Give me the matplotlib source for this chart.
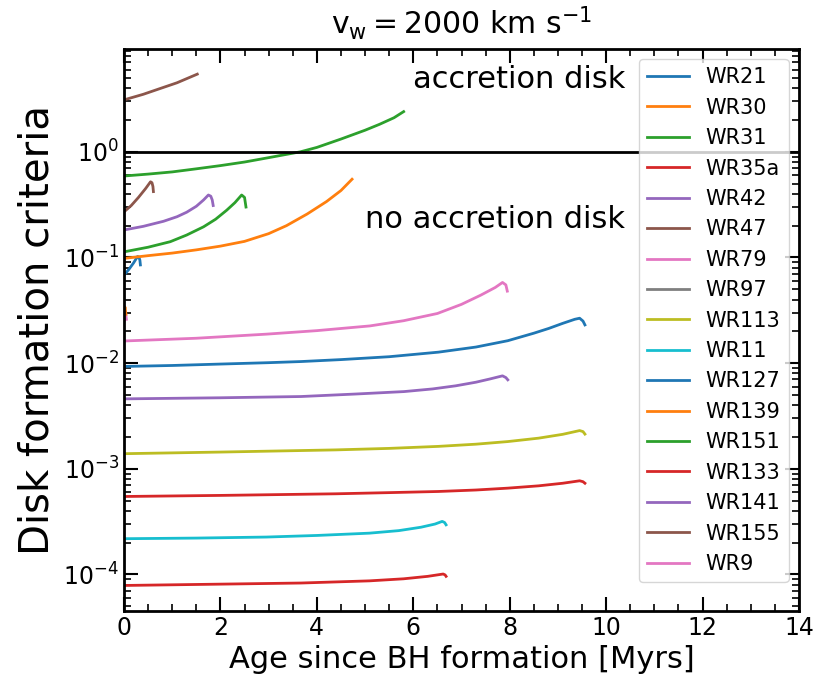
import numpy as np
import matplotlib.pyplot as plt

# nombres de las estrellas (orden de la leyenda)
names = ['WR21', 'WR30', 'WR31', 'WR35a', 'WR42', 'WR47', 'WR79', 'WR97',
         'WR113', 'WR11', 'WR127', 'WR139', 'WR151', 'WR133', 'WR141',
         'WR155', 'WR9']

# edad [Myr] y criterio de formacion de disco
wr21_t = [0.0, 0.1, 0.2, 0.28, 0.31, 0.33, 0.34]
wr21_c = [0.068, 0.077, 0.089, 0.102, 0.101, 0.094, 0.085]
wr30_t = [0.0, 0.5, 1.0, 1.5, 2.0, 2.5, 3.0, 3.37, 3.8, 4.2, 4.5, 4.73]
wr30_c = [0.098, 0.104, 0.110, 0.118, 0.128, 0.142, 0.168, 0.2, 0.258,
          0.338, 0.43, 0.55]
wr31_t = [0.0, 0.5, 1.0, 1.5, 2.0, 2.5, 3.0, 3.66, 4.0, 4.5, 5.0, 5.3,
          5.6, 5.8]
wr31_c = [0.59, 0.615, 0.645, 0.69, 0.74, 0.80, 0.88, 1.0, 1.1, 1.32, 1.6,
          1.82, 2.1, 2.4]
wr35a_t = [0.0, 2.0, 3.67, 5.09, 5.8, 6.3, 6.62, 6.66, 6.68]
wr35a_c = [7.87e-5, 8.1e-5, 8.3e-5, 8.7e-5, 9.1e-5, 9.6e-5, 1.01e-4,
           9.9e-5, 9.6e-5]
wr42_t = [0.0, 0.4, 0.82, 1.1, 1.3, 1.5, 1.65, 1.75, 1.8, 1.83, 1.85]
wr42_c = [0.182, 0.197, 0.22, 0.243, 0.268, 0.305, 0.35, 0.39, 0.38,
          0.35, 0.31]
wr47_t = [0.0, 0.15, 0.3, 0.45, 0.55, 0.58, 0.6, 0.61]
wr47_c = [0.27, 0.31, 0.37, 0.45, 0.52, 0.51, 0.47, 0.42]
wr79_t = [0.0, 0.03, 0.05]
wr79_c = [0.025, 0.031, 0.026]
wr97_t = []
wr97_c = []
wr113_t = [0.0, 2.0, 4.39, 5.5, 6.52, 7.3, 7.96, 8.6, 9.1, 9.45, 9.52,
           9.56]
wr113_c = [1.39e-3, 1.44e-3, 1.51e-3, 1.56e-3, 1.63e-3, 1.71e-3, 1.81e-3,
           1.95e-3, 2.12e-3, 2.3e-3, 2.25e-3, 2.13e-3]
wr11_t = [0.0, 1.5, 2.95, 4.0, 5.09, 5.7, 6.16, 6.45, 6.6, 6.65, 6.68]
wr11_c = [2.18e-4, 2.21e-4, 2.26e-4, 2.34e-4, 2.46e-4, 2.6e-4, 2.8e-4,
          3.0e-4, 3.18e-4, 3.1e-4, 2.95e-4]
wr127_t = [0.0, 1.0, 2.0, 3.0, 3.67, 4.5, 5.5, 6.52, 7.3, 7.96, 8.5,
           8.81, 9.1, 9.35, 9.45, 9.52, 9.56]
wr127_c = [0.0093, 0.0095, 0.0098, 0.0101, 0.01035, 0.0108, 0.0115, 0.0127,
           0.0142, 0.0163, 0.0192, 0.0213, 0.0238, 0.026, 0.0266, 0.025,
           0.023]
wr139_t = [0.0, 0.02, 0.04]
wr139_c = [0.028, 0.034, 0.029]
wr151_t = [0.0, 0.5, 0.96, 1.3, 1.65, 1.9, 2.13, 2.3, 2.44, 2.5, 2.53]
wr151_c = [0.113, 0.125, 0.141, 0.163, 0.195, 0.23, 0.28, 0.33, 0.39,
           0.37, 0.30]
wr133_t = [0.0, 2.0, 4.39, 5.5, 6.52, 7.3, 7.96, 8.6, 9.1, 9.45, 9.52,
           9.56]
wr133_c = [5.47e-4, 5.6e-4, 5.8e-4, 5.95e-4, 6.1e-4, 6.3e-4, 6.56e-4,
           6.9e-4, 7.3e-4, 7.7e-4, 7.55e-4, 7.3e-4]
wr141_t = [0.0, 2.0, 3.67, 4.8, 5.81, 6.4, 6.88, 7.3, 7.6, 7.85, 7.92,
           7.96]
wr141_c = [4.59e-3, 4.7e-3, 4.83e-3, 5.1e-3, 5.38e-3, 5.7e-3, 6.1e-3,
           6.6e-3, 7.1e-3, 7.58e-3, 7.3e-3, 6.95e-3]
wr155_t = [0.0, 0.4, 0.75, 1.1, 1.52]
wr155_c = [3.1, 3.5, 3.97, 4.5, 5.43]
wr9_t = [0.0, 1.5, 2.95, 4.0, 5.1, 5.8, 6.5, 7.0, 7.4, 7.7, 7.85, 7.92,
         7.95]
wr9_c = [0.0162, 0.0172, 0.0188, 0.0203, 0.0225, 0.0252, 0.0295, 0.036,
         0.044, 0.052, 0.058, 0.055, 0.048]

ages = [wr21_t, wr30_t, wr31_t, wr35a_t, wr42_t, wr47_t, wr79_t, wr97_t,
        wr113_t, wr11_t, wr127_t, wr139_t, wr151_t, wr133_t, wr141_t,
        wr155_t, wr9_t]
crit = [wr21_c, wr30_c, wr31_c, wr35a_c, wr42_c, wr47_c, wr79_c, wr97_c,
        wr113_c, wr11_c, wr127_c, wr139_c, wr151_c, wr133_c, wr141_c,
        wr155_c, wr9_c]

fig = plt.figure(figsize=(8.25, 6.79), dpi=100)
ax = fig.add_axes([0.1503, 0.1001, 0.8182, 0.8284])

for name, t, c in zip(names, ages, crit):
    ax.plot(t, c, lw=2, label=name)

ax.axhline(1, color='k', lw=2)
ax.set_yscale('log')
ax.set_xlim(0, 14)
ax.set_ylim(10**-4.346, 10**0.977)
ax.set_xticks(np.arange(0, 15, 2))
ax.set_xticks(np.arange(0, 14.01, 0.5), minor=True)

ax.text(6, 4.0, 'accretion disk', fontsize=22)
ax.text(5, 0.19, 'no accretion disk', fontsize=22)

ax.set_xlabel('Age since BH formation [Myrs]', fontsize=22)
ax.set_ylabel('Disk formation criteria', fontsize=29)
ax.set_title(r'$\rm v_w = 2000\ km\ s^{-1}$', fontsize=21.5, pad=10)

ax.tick_params(which='both', direction='in', top=True, right=True,
               labelsize=17)
ax.tick_params(which='major', length=10, width=1.5)
ax.tick_params(which='minor', length=5, width=1.2)
for s in ax.spines.values():
    s.set_linewidth(2)

ax.legend(loc='upper right', fontsize=15)

fig.savefig('out.png', dpi=100)
